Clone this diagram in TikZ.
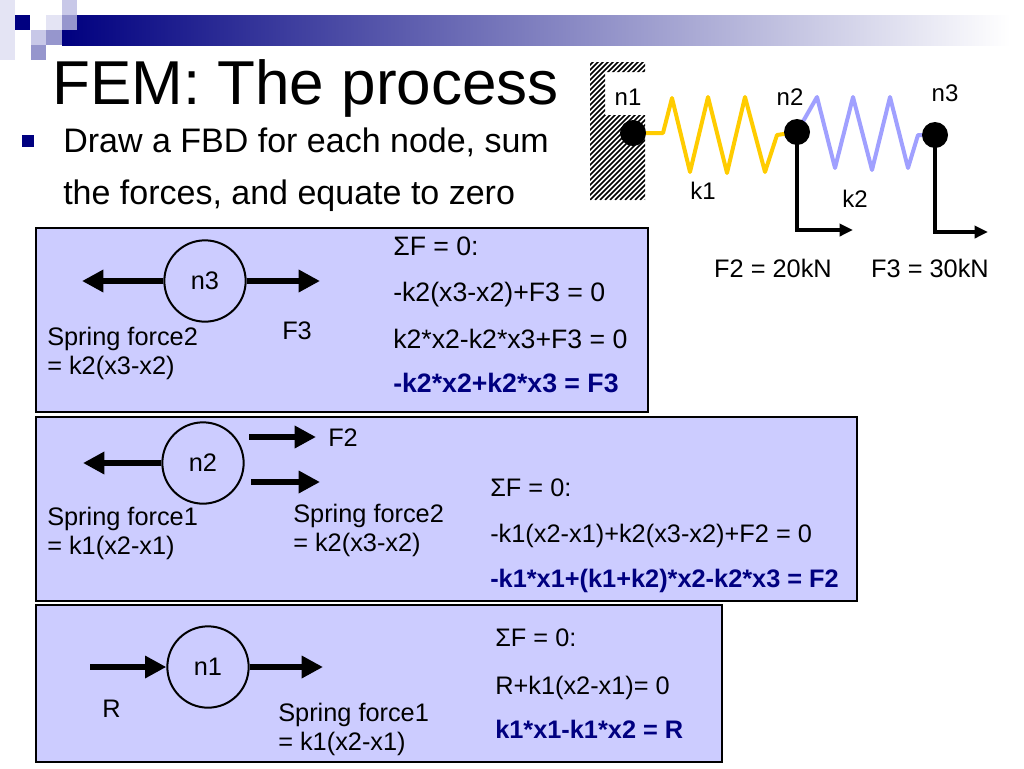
\documentclass[tikz,border=0pt]{standalone}
\usepackage{fontspec}
\setmainfont{Liberation Sans}
\usetikzlibrary{arrows.meta,positioning,backgrounds,calc}
\definecolor{navy}{rgb}{0.0,0.0,0.5}
\definecolor{boxfill}{RGB}{204,204,255}
\definecolor{springa}{RGB}{255,204,0}
\definecolor{springb}{RGB}{160,160,255}
\definecolor{sqlight}{RGB}{200,200,232}
\definecolor{sqmid}{RGB}{150,150,205}
\definecolor{sqfaint}{RGB}{228,228,244}
\newcommand{\titlefs}{\fontsize{46.5}{50}\selectfont}
\newcommand{\bulfs}{\fontsize{25.5}{30}\selectfont}
\newcommand{\lblfs}{\fontsize{19}{22.5}\selectfont}
\newcommand{\eqfs}{\fontsize{19}{23}\selectfont}
\newcommand{\eqbigfs}{\fontsize{20}{24}\selectfont}
\newcommand{\tagfs}{\fontsize{18}{21}\selectfont}

\tikzset{
  fbdbox/.style={draw=black, line width=0.9pt, fill=boxfill},
  nodecirc/.style={circle, draw, line width=1.5pt, minimum size=61pt, inner sep=0pt, font=\lblfs},
  force/.style={line width=4.5pt, -{Triangle[length=16pt,width=16pt]}},
  load/.style={line width=2.5pt, -{Triangle[length=10pt,width=9pt]}},
  spring/.style={line width=3pt, line join=round},
  dot/.style={circle, fill=black, minimum size=19.5pt, inner sep=0pt},
  lbl/.style={font=\lblfs, inner sep=0pt, anchor=base west},
  eqn/.style={font=\eqfs, inner sep=0pt, anchor=base west},
  eqbold/.style={eqn, font=\eqfs\bfseries, text=navy},
  tag/.style={font=\tagfs, inner sep=0pt, anchor=base},
}

\begin{document}
\begin{tikzpicture}[x=0.75pt,y=-0.75pt]
\useasboundingbox (0,0) rectangle (1024,768);

\shade[left color=navy, right color=white] (62,15) rectangle (1010,45);
\fill[sqfaint] (0,0) rectangle (15,60);
\fill[navy] (15,15) rectangle ++(15,15);
\fill[sqlight] (62,0) rectangle ++(15,15);
\fill[sqfaint] (46,15) rectangle ++(16,15);
\fill[sqmid] (62,15) rectangle ++(15,15);
\fill[sqlight] (31,30) rectangle ++(15,15);
\fill[sqmid] (46,30) rectangle ++(16,15);
\fill[sqmid] (31,45) rectangle ++(15,15);

\node[font=\titlefs, inner sep=0pt, anchor=base west] (title) at (52,104) {FEM: The process};
\node[fill=navy, minimum size=9pt, inner sep=0pt] (bul) at (28,141) {};
\node[font=\bulfs, inner sep=0pt, anchor=base west] (pt1) at (63,152) {Draw a FBD for each node, sum};
\node[font=\bulfs, inner sep=0pt, below=39pt of pt1.base west, anchor=base west] (pt2) {the forces, and equate to zero};

\begin{scope}
  \clip (590,62) -- (645,62) -- (645,72) -- (605,72) -- (605,115) -- (645,115) -- (645,200) -- (590,200) -- cycle;
  \foreach \x in {445,450,...,645}
    \draw[line width=1.3pt] (\x,200) -- ++(140,-140);
\end{scope}

\node[dot] (d1) at (633,133) {};
\node[dot] (d2) at (797,132) {};
\node[dot] (d3) at (935,135) {};
\begin{scope}[on background layer]
  \draw[spring, springa] (d1.center) -- (663,133) -- (672,98) -- (690,172) -- (708,97) -- (727,173)
    -- (745,97) -- (765,172) -- (777,135) -- (d2.center);
  \draw[spring, springb] (d2.center) -- (817,97) -- (835,168) -- (853,97) -- (872,170) -- (890,97)
    -- (908,168) -- (918,135) -- (d3.center);
\end{scope}
\coordinate (f2end) at (853,230);
\coordinate (f3end) at (988,232);
\draw[load] (d2.center) |- (f2end);
\draw[load] (d3.center) |- (f3end);

\node[tag] (l1) at (628,105) {n1};
\node[tag] (l2) at (790,105) {n2};
\node[tag] (l3) at (945,101) {n3};
\node[tag] (k1) at (703,199) {k1};
\node[tag] (k2) at (855,207) {k2};
\node[tag, font=\lblfs] (load2) at (773,277) {F2 = 20kN};
\node[tag, font=\lblfs] (load3) at (930,277) {F3 = 30kN};

\draw[fbdbox] (36,228) rectangle (648,412);
\node[nodecirc] (c3) at (205,281) {n3};
\coordinate (s3l) at (82,281);
\coordinate (f3r) at (320,281);
\draw[force] (c3.west) -- (s3l);
\draw[force] (c3.east) -- (f3r);
\node[lbl] (sf3) at (47,345) {Spring force2};
\node[lbl, below=22pt of sf3.base west, anchor=base west] (sf3b) {= k2(x3-x2)};
\node[lbl] (lf3) at (282,339) {F3};
\node[eqn, font=\eqbigfs] (e3a) at (393,255) {ΣF = 0:};
\node[eqn, font=\eqbigfs, below=35pt of e3a.base west, anchor=base west] (e3b) {-k2(x3-x2)+F3 = 0};
\node[eqn, font=\eqbigfs, below=35pt of e3b.base west, anchor=base west] (e3c) {k2*x2-k2*x3+F3 = 0};
\node[eqbold, font=\eqbigfs\bfseries, below=33pt of e3c.base west, anchor=base west] (e3d) {-k2*x2+k2*x3 = F3};

\draw[fbdbox] (36,417) rectangle (857,601);
\node[nodecirc] (c2) at (203,463) {n2};
\coordinate (s2l) at (83,463);
\draw[force] (c2.west) -- (s2l);
\coordinate (f2a) at (249,437);
\coordinate (f2b) at (316,437);
\draw[force] (f2a) -- (f2b);
\coordinate (s2a) at (251,482);
\coordinate (s2b) at (320,482);
\draw[force] (s2a) -- (s2b);
\node[lbl] (lf2) at (328,446) {F2};
\node[lbl] (sf1) at (47,525) {Spring force1};
\node[lbl, below=22pt of sf1.base west, anchor=base west] (sf1b) {= k1(x2-x1)};
\node[lbl] (sf2) at (293,522) {Spring force2};
\node[lbl, below=22pt of sf2.base west, anchor=base west] (sf2b) {= k2(x3-x2)};
\node[eqn] (e2a) at (490,496) {ΣF = 0:};
\node[eqn, below=34.5pt of e2a.base west, anchor=base west] (e2b) {-k1(x2-x1)+k2(x3-x2)+F2 = 0};
\node[eqbold, below=34pt of e2b.base west, anchor=base west] (e2c) {-k1*x1+(k1+k2)*x2-k2*x3 = F2};

\draw[fbdbox] (36,605) rectangle (722,762);
\node[nodecirc] (c1) at (208,667) {n1};
\coordinate (rl) at (90,667);
\coordinate (s1r) at (323,667);
\draw[force] (rl) -- (c1.west);
\draw[force] (c1.east) -- (s1r);
\node[lbl] (lr) at (102,717) {R};
\node[lbl] (sf1c) at (278,721) {Spring force1};
\node[lbl, below=22pt of sf1c.base west, anchor=base west] (sf1d) {= k1(x2-x1)};
\node[eqn] (e1a) at (495,646) {ΣF = 0:};
\node[eqn, below=36pt of e1a.base west, anchor=base west] (e1b) {R+k1(x2-x1)= 0};
\node[eqbold, below=33pt of e1b.base west, anchor=base west] (e1c) {k1*x1-k1*x2 = R};
\end{tikzpicture}
\end{document}
